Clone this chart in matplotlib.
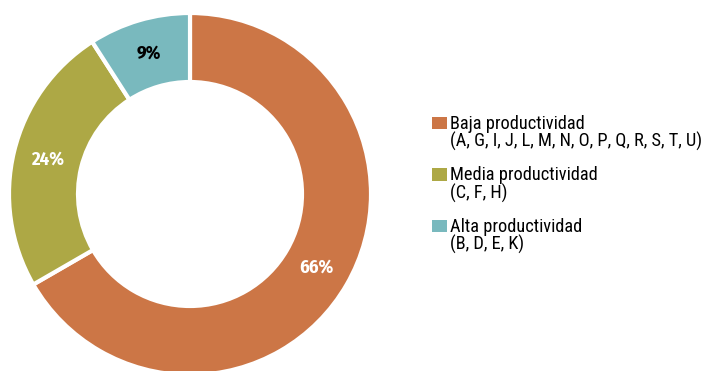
import numpy as np
import matplotlib
matplotlib.use("Agg")
import matplotlib.pyplot as plt
from matplotlib.patches import Rectangle

# Datos: distribución por nivel de productividad
categorias = ["Baja productividad", "Media productividad", "Alta productividad"]
sectores = ["(A, G, I, J, L, M, N, O, P, Q, R, S, T, U)", "(C, F, H)", "(B, D, E, K)"]
porcentajes = [66, 24, 9]
colores = ["#CC7646", "#ADA845", "#79B9BE"]
color_etiqueta = ["white", "white", "black"]

fuente_leyenda = ["Roboto Condensed", "Fira Sans Condensed", "DejaVu Sans"]
fuente_valores = ["Fira Sans Condensed", "Roboto Condensed", "DejaVu Sans"]

fig = plt.figure(figsize=(7.05, 3.71), dpi=100)
ax = fig.add_axes([0, 0, 1, 1])

# Anillo (coordenadas en píxeles, y hacia arriba)
centro = (190, 177)
radio = 181
ancho = 69
wedges, _ = ax.pie(
    porcentajes, colors=colores, startangle=90, counterclock=False,
    center=centro, radius=radio, frame=True,
    wedgeprops=dict(width=ancho, edgecolor="white", linewidth=3),
)
ax.set_xlim(0, 705)
ax.set_ylim(0, 371)
ax.set_aspect("equal")
ax.axis("off")

# Etiquetas de porcentaje en el centro del anillo
for w, p, c in zip(wedges, porcentajes, color_etiqueta):
    ang = np.deg2rad((w.theta1 + w.theta2) / 2)
    r = radio - ancho / 2
    x = centro[0] + r * np.cos(ang)
    y = centro[1] + r * np.sin(ang)
    ax.text(x, y, f"{p}%", ha="center", va="center", color=c,
            fontsize=13.5, fontweight="bold", family=fuente_valores)

# Leyenda
base = 371 - 129
for i, (cat, sec, col) in enumerate(zip(categorias, sectores, colores)):
    y = base - i * 51.5
    ax.add_patch(Rectangle((432, y), 15, 12.5, color=col, lw=0))
    ax.text(450, y, cat, ha="left", va="baseline", fontsize=13.2,
            family=fuente_leyenda)
    ax.text(450, y - 18, sec, ha="left", va="baseline", fontsize=13.2,
            family=fuente_leyenda)

fig.savefig("out.png", dpi=100)
